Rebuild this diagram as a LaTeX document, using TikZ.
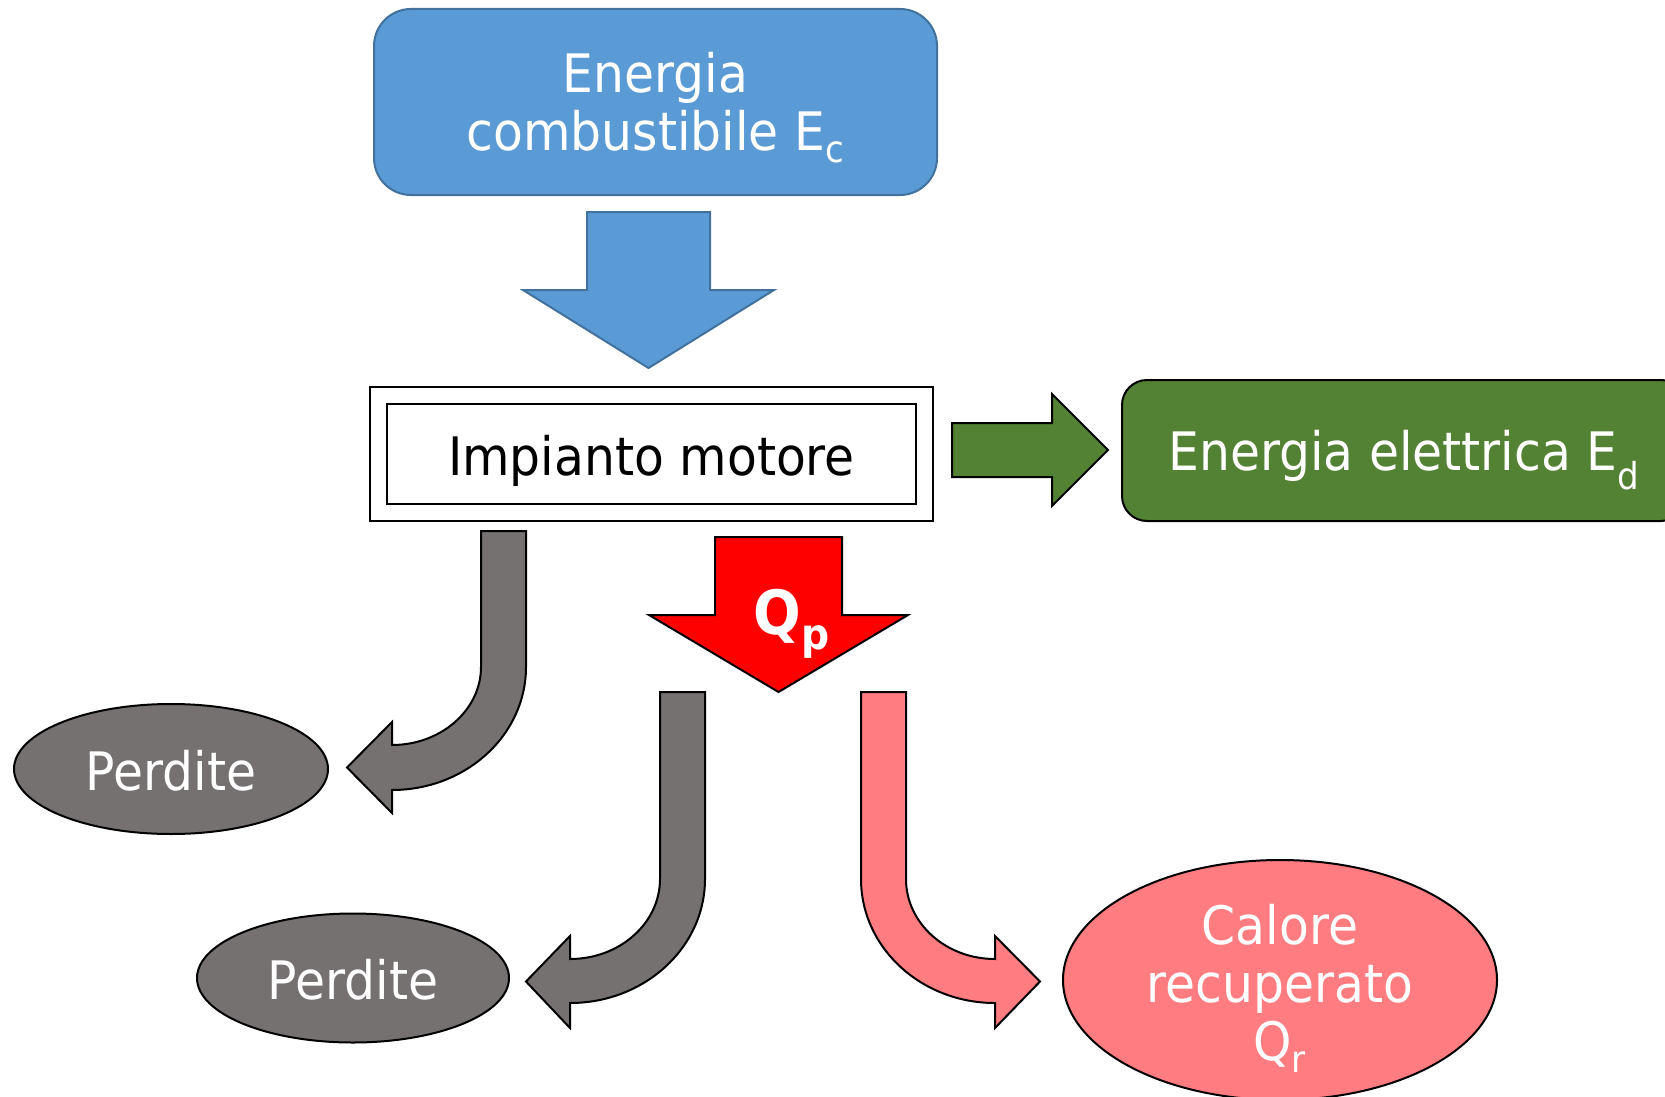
\documentclass[tikz,border=0pt]{standalone}
\usepackage{fontspec}
\setmainfont{DejaVu Sans}[FakeStretch=0.92]
\usetikzlibrary{shapes.geometric}
\definecolor{eblue}{HTML}{5B9BD5}
\definecolor{eblueline}{HTML}{41719C}
\definecolor{egreen}{HTML}{548235}
\definecolor{egray}{HTML}{767171}
\definecolor{epink}{HTML}{FF7C80}
\newcommand\bigfont{\fontsize{53}{58}\selectfont}
\begin{document}
\begin{tikzpicture}[x=1pt,y=-1pt,line join=miter,
  bluebox/.style={draw=eblueline,line width=2pt,fill=eblue,rounded corners=37pt,
    minimum width=563pt,minimum height=186pt,inner sep=0pt},
  greenbox/.style={draw=black,line width=2pt,fill=egreen,rounded corners=25pt,
    minimum width=564pt,minimum height=141pt,inner sep=0pt},
  framebox/.style={draw=black,line width=2.5pt,fill=white,inner sep=0pt},
  lossell/.style={ellipse,draw=black,line width=2pt,fill=egray,inner sep=0pt},
  heatell/.style={ellipse,draw=black,line width=2pt,fill=epink,inner sep=0pt},
  wtext/.style={text=white,font=\bigfont,inner sep=0pt,align=center},
  btext/.style={text=black,font=\bigfont,inner sep=0pt,align=center},
  bluearrow/.style={draw=eblueline,line width=2pt,fill=eblue},
  blockarrow/.style={draw=black,line width=2pt}]
\useasboundingbox (0,0) rectangle (1665,1097);
\clip (0,0) rectangle (1665,1097);

% source box
\node[bluebox] (src) at (655.5,102) {};
\node[wtext] (srct) at ([yshift=-6pt]src.center) {Energia\\combustibile E\textsubscript{c}};

% blue arrow
\draw[bluearrow] (587,212) -- (710,212) -- (710,290) -- (774,290) -- (648.5,368) -- (523,290) -- (587,290) -- cycle;

% Impianto motore
\node[framebox,minimum width=563pt,minimum height=134pt] (plant) at (651.5,454) {};
\node[framebox,minimum width=529pt,minimum height=100pt] (plantin) at (651.5,454) {};
\node[btext] (plantt) at ([yshift=-6.5pt]plantin.center) {Impianto motore};

% green arrow and box
\draw[blockarrow,fill=egreen] (952,423) -- (1052,423) -- (1052,394) -- (1108,450) -- (1052,506) -- (1052,477) -- (952,477) -- cycle;
\node[greenbox] (elec) at (1404,450.5) {};
\node[wtext] (elect) at ([yshift=-9.5pt]elec.center) {Energia elettrica E\textsubscript{d}};

% red arrow Qp
\draw[blockarrow,fill=red] (715,537) -- (842,537) -- (842,615) -- (908,615) -- (778.5,692) -- (649,615) -- (715,615) -- cycle;
\node[text=white,font=\fontsize{61}{66}\selectfont\bfseries,inner sep=0pt] (qp) at (792,624) {Q\textsubscript{p}};

% gray bent arrow 1
\draw[blockarrow,fill=egray] (481,531) -- (526,531) -- (526,667)
  .. controls (526,735) and (466,790) .. (392,790) -- (392,813) -- (347,767.5) -- (392,722) -- (392,745)
  .. controls (441,745) and (481,710) .. (481,667) -- cycle;
\node[lossell,minimum width=314pt,minimum height=130pt] (loss1) at (171,769) {};
\node[wtext] (loss1t) at ([yshift=-2pt]loss1.center) {Perdite};

% gray bent arrow 2
\draw[blockarrow,fill=egray] (660,692) -- (705,692) -- (705,879)
  .. controls (705,947.5) and (644.6,1003) .. (570,1003) -- (570,1028) -- (526,981.5) -- (570,936) -- (570,959)
  .. controls (619.7,959) and (660,923.2) .. (660,879) -- cycle;
\node[lossell,minimum width=312pt,minimum height=129pt] (loss2) at (353,978) {};
\node[wtext] (loss2t) at ([yshift=-2pt]loss2.center) {Perdite};

% pink bent arrow
\draw[blockarrow,fill=epink] (861,692) -- (906,692) -- (906,879)
  .. controls (906,923.2) and (945.8,959) .. (995,959) -- (995,936) -- (1040,981.5) -- (995,1028) -- (995,1003)
  .. controls (921,1003) and (861,947.5) .. (861,879) -- cycle;
\node[heatell,minimum width=434pt,minimum height=240pt] (heat) at (1280,980) {};
\node[wtext] (heatt) at ([yshift=-8pt]heat.center) {Calore\\recuperato\\Q\textsubscript{r}};
\end{tikzpicture}
\end{document}
